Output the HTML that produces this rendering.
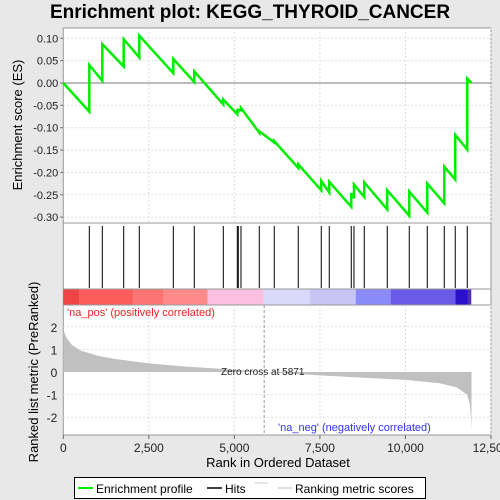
<!DOCTYPE html>
<html><head><meta charset="utf-8"><style>
body{margin:0;background:#e8e8e8;font-family:"Liberation Sans","DejaVu Sans",sans-serif}
svg{display:block}
</style></head><body>
<svg id="c" width="500" height="500" xmlns="http://www.w3.org/2000/svg">
<rect x="0" y="0" width="500" height="500" fill="#e8e8e8"/>
<text x="250" y="18" text-anchor="middle" font-size="19" font-weight="bold" fill="#000">Enrichment plot: KEGG_THYROID_CANCER</text>
<g id="es-panel"></g>
<g id="hits-panel"></g>
<g id="bar-panel"></g>
<g id="metric-panel"></g>
<g>
<rect x="74.5" y="477.5" width="351" height="21" fill="#fff" stroke="#000"/>
<line x1="78" y1="488" x2="93" y2="488" stroke="#00ee00" stroke-width="2"/>
<text x="96" y="493" font-size="12">Enrichment profile</text>
<line x1="207" y1="488" x2="222" y2="488" stroke="#000" stroke-width="1.5"/>
<text x="225" y="493" font-size="12">Hits</text>
<line x1="255" y1="483" x2="268" y2="483" stroke="#ccc"/>
<line x1="278" y1="488" x2="292" y2="488" stroke="#bbb"/>
<text x="295" y="493" font-size="12">Ranking metric scores</text>
</g>
</svg>
<script>
const hitRanks=[760,1140,1765,2221,3215,3828,4676,5085,5114,5193,5728,6166,6867,7539,7773,8416,8495,8796,9468,10111,10637,11134,11455,11806];
const esPre=[-0.064,0.005,0.037,0.057,0.022,0.002,-0.048,-0.070,-0.063,-0.061,-0.111,-0.133,-0.190,-0.240,-0.245,-0.277,-0.258,-0.255,-0.283,-0.297,-0.290,-0.269,-0.216,-0.149];
const esPost=[0.040,0.087,0.098,0.106,0.054,0.026,-0.037,-0.062,-0.060,-0.056,-0.108,-0.130,-0.182,-0.219,-0.221,-0.247,-0.227,-0.222,-0.240,-0.243,-0.225,-0.187,-0.116,0.010];
const totalRanks=11930;
const metricRanks=[0,100,250,500,1000,1500,2500,3500,5000,5871,7500,9000,10000,11000,11500,11800,11880,11910,11930];
const metricVals=[1.86,1.5,1.2,0.95,0.72,0.58,0.38,0.25,0.1,0,-0.15,-0.27,-0.35,-0.5,-0.68,-1.0,-1.4,-1.9,-2.6];
const esTicks=[0.10,0.05,0.00,-0.05,-0.10,-0.15,-0.20,-0.25,-0.30];
const metricTicks=[2,1,0,-1,-2];
const xTicks=[0,2500,5000,7500,10000,12500];
const xTickLabels=["0","2,500","5,000","7,500","10,000","12,500"];
const barStarts=[0,459,2046,2933,4220,5856,7209,8545,9567,11455,11826];
const barEnds=[459,2046,2933,4220,5856,7209,8545,9567,11455,11826,11923];
const barColors=["#f04545","#fb5c5c","#fd7272","#fe8a8a","#fcbfe0","#d9d9fb","#c8c4f4","#8a8af8","#6a5ae8","#2a10c8","#5030b0"];
const NS="http://www.w3.org/2000/svg";
const L=63.3,R=491,PR=12500;
const X=r=>L+r*(R-L)/PR;
const Yes=v=>83-v*447;
const Ym=v=>372-v*22.6;
function el(t,a,p){const e=document.createElementNS(NS,t);for(const k in a)e.setAttribute(k,a[k]);p.appendChild(e);return e;}
const es=document.getElementById('es-panel');
el('rect',{x:L,y:28,width:R-L,height:195,fill:'#fff',stroke:'#999'},es);
for(let i=1;i<xTicks.length;i++){el('line',{x1:X(xTicks[i]),x2:X(xTicks[i]),y1:28,y2:223,stroke:'#ddd','stroke-dasharray':'2,2'},es);}
esTicks.forEach(v=>{
 el('line',{x1:L,x2:R,y1:Yes(v),y2:Yes(v),stroke:v===0?'#777':'#ddd','stroke-dasharray':v===0?'':'2,2'},es);
 const t=el('text',{x:L-5,y:Yes(v)+4,'text-anchor':'end','font-size':'11',fill:'#222'},es);t.textContent=v.toFixed(2);
 el('line',{x1:L-3,x2:L,y1:Yes(v),y2:Yes(v),stroke:'#666'},es);
});
let pts=[[X(0),Yes(0)]];
hitRanks.forEach((r,i)=>{pts.push([X(r),Yes(esPre[i])]);pts.push([X(r),Yes(esPost[i])]);});
pts.push([X(totalRanks),Yes(0)]);
const pl=el('polyline',{points:pts.map(p=>p.join(',')).join(' '),fill:'none',stroke:'#00ee00','stroke-width':'2.5'},es);


const yl=el('text',{x:0,y:0,transform:'translate(22,125) rotate(-90)','text-anchor':'middle','font-size':'13'},es);yl.textContent='Enrichment score (ES)';
const hp=document.getElementById('hits-panel');
el('rect',{x:L,y:223,width:R-L,height:66,fill:'#fff',stroke:'#999'},hp);
hitRanks.forEach(r=>{const h=el('line',{x1:X(r),x2:X(r),y1:226,y2:288,stroke:'#000','stroke-width':'1'},hp);
 
 });
const bp=document.getElementById('bar-panel');
el('rect',{x:L,y:289,width:R-L,height:16,fill:'#fff',stroke:'#999'},bp);
barStarts.forEach((s,i)=>{el('rect',{x:X(s),y:289.5,width:X(barEnds[i])-X(s),height:15.5,fill:barColors[i]},bp);});
const mp=document.getElementById('metric-panel');
el('rect',{x:L,y:305,width:R-L,height:130,fill:'#fff',stroke:'#999'},mp);
for(let i=1;i<xTicks.length;i++){el('line',{x1:X(xTicks[i]),x2:X(xTicks[i]),y1:305,y2:435,stroke:'#ddd','stroke-dasharray':'2,2'},mp);}
metricTicks.forEach(v=>{
 if(v!==0)el('line',{x1:L,x2:R,y1:Ym(v),y2:Ym(v),stroke:'#ddd','stroke-dasharray':'2,2'},mp);
 const t=el('text',{x:L-6,y:Ym(v)+5,'text-anchor':'end','font-size':'12',fill:'#222'},mp);t.textContent=v;
});
let mpts=metricRanks.map((r,i)=>[X(r),Ym(metricVals[i])]);
mpts.push([X(totalRanks),Ym(0)]);mpts.unshift([X(0),Ym(0)]);
const area=el('polygon',{points:mpts.map(p=>p.join(',')).join(' '),fill:'#c0c0c0'},mp);


el('line',{x1:X(5871),x2:X(5871),y1:305,y2:435,stroke:'#999','stroke-dasharray':'3,2'},mp);
let t=el('text',{x:221,y:375,'font-size':'10',fill:'#222'},mp);t.textContent='Zero cross at 5871';
t=el('text',{x:67,y:316,'font-size':'11',fill:'#ee2222'},mp);t.textContent="'na_pos' (positively correlated)";
t=el('text',{x:278,y:431,'font-size':'11',fill:'#3333ee'},mp);t.textContent="'na_neg' (negatively correlated)";
xTicks.forEach((v,i)=>{el('line',{x1:X(v),x2:X(v),y1:435,y2:439,stroke:'#666'},mp);
 const tt=el('text',{x:X(v),y:452,'text-anchor':'middle','font-size':'12',fill:'#222'},mp);tt.textContent=xTickLabels[i];});
t=el('text',{x:278,y:467,'text-anchor':'middle','font-size':'13'},mp);t.textContent='Rank in Ordered Dataset';
t=el('text',{x:0,y:0,transform:'translate(38,372) rotate(-90)','text-anchor':'middle','font-size':'13'},mp);t.textContent='Ranked list metric (PreRanked)';
</script>
</body></html>
